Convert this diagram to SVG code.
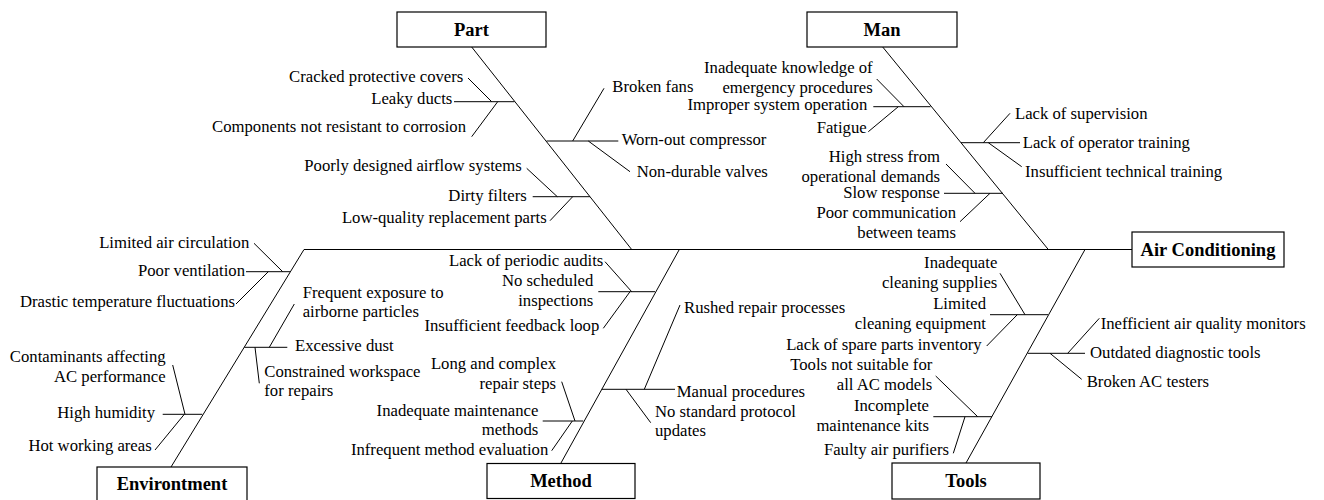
<svg xmlns="http://www.w3.org/2000/svg" width="1324" height="500" viewBox="0 0 1324 500">
  <style>
    text { font-family: "Liberation Serif", "Times New Roman", serif; }
    .bg { fill: #ffffff; }
    .box { fill: #ffffff; stroke: #000000; stroke-width: 1.2; }
    .title { font-size: 18.5px; font-weight: bold; fill: #000000; text-anchor: middle; }
    .lbl { font-size: 16.7px; fill: #000000; }
    .r { text-anchor: end; }
    .l { text-anchor: start; }
    .ln { fill: none; stroke: #000000; stroke-width: 1; }
  </style>
  <rect class="bg" x="0" y="0" width="1324" height="500"/>

  <!-- connectors: spine, main bones and cause ribs -->
  <g id="connectors" class="ln">
    <path d="M304 249.5 H1132"/>
    <!-- main bones -->
    <path d="M471.7 47 L631.7 249.5"/>
    <path d="M882.7 47 L1048.3 249.5"/>
    <path d="M304 249.5 L171 467"/>
    <path d="M679.3 249.5 L560.7 463.5"/>
    <path d="M1085 249.5 L966 463"/>
    <!-- Part ribs -->
    <path d="M454 101.7 H514.5 M468 78 L491.7 101.7 M471.7 136.7 L497.7 101.7"/>
    <path d="M546.5 141 H618.3 M604 88.3 L572.7 141 M588.3 141 L630 171.7"/>
    <path d="M532.7 196.7 H590 M526.7 168.3 L557.3 196.7 M550 220.7 L572.7 196.7"/>
    <!-- Man ribs -->
    <path d="M873.3 106.7 H930.5 M876.7 79 L904 106.7 M868.3 131.7 L898.3 106.7"/>
    <path d="M961 142.7 H1020 M983.3 142.7 L1010 113.3 M988.3 142.7 L1021.7 166.7"/>
    <path d="M944 193.3 H1003 M946 164 L975 193.3 M960 221.7 L990 193.3"/>
    <!-- Environment ribs -->
    <path d="M246 271.7 H290 M254 243.3 L282.7 271.7 M236 304 L268.3 271.7"/>
    <path d="M244.3 347.3 H287.3 M269.3 347.3 L294.3 304 M255 347.3 L259.3 383.3"/>
    <path d="M162.7 414.3 H202.3 M172.7 365 L185 414.3 M155 450 L184.3 414.3"/>
    <!-- Method ribs -->
    <path d="M598.3 291.7 H655 M605 261.7 L631.7 291.7 M603.3 328.3 L630 291.7"/>
    <path d="M601.7 389.3 H675 M644.3 389.3 L680 305 M626 389.3 L650.7 422.7"/>
    <path d="M542.7 421 H583.3 M561.7 381.7 L575 421 M551.7 450.7 L572.3 421"/>
    <!-- Tools ribs -->
    <path d="M990 314.7 H1048 M1000 273.3 L1025 314.7 M986.7 346 L1017.3 314.7"/>
    <path d="M1027.7 353.3 H1085 M1067.7 353.3 L1099.3 318.3 M1050 353.3 L1081.7 379.3"/>
    <path d="M933.3 416.7 H992 M935.7 376 L977.7 416.7 M953.3 453.3 L965 416.7"/>
  </g>

  <!-- category and effect boxes -->
  <g id="node-part">
    <rect class="box" x="397" y="12" width="149" height="35"/>
    <text class="title" x="471.5" y="35.5">Part</text>
  </g>
  <g id="node-man">
    <rect class="box" x="807" y="12" width="150" height="35"/>
    <text class="title" x="882" y="35.5">Man</text>
  </g>
  <g id="node-air-conditioning">
    <rect class="box" x="1132" y="232" width="152" height="35"/>
    <text class="title" x="1208" y="255.5">Air Conditioning</text>
  </g>
  <g id="node-environment">
    <rect class="box" x="97" y="467" width="150" height="36"/>
    <text class="title" x="172" y="490">Environtment</text>
  </g>
  <g id="node-method">
    <rect class="box" x="487" y="463.5" width="148" height="35"/>
    <text class="title" x="561" y="487">Method</text>
  </g>
  <g id="node-tools">
    <rect class="box" x="892" y="463" width="148" height="36"/>
    <text class="title" x="966" y="487">Tools</text>
  </g>

  <!-- Part causes -->
  <g id="causes-part" class="lbl">
    <text class="r" x="463.3" y="81.7">Cracked protective covers</text>
    <text class="r" x="452.3" y="104.3">Leaky ducts</text>
    <text class="r" x="466" y="132.3">Components not resistant to corrosion</text>
    <text class="l" x="612.3" y="91.7">Broken fans</text>
    <text class="l" x="621.7" y="145">Worn-out compressor</text>
    <text class="l" x="636.7" y="177.3">Non-durable valves</text>
    <text class="r" x="521.7" y="170.7">Poorly designed airflow systems</text>
    <text class="r" x="526.7" y="200.7">Dirty filters</text>
    <text class="r" x="546.7" y="222.7">Low-quality replacement parts</text>
  </g>

  <!-- Man causes -->
  <g id="causes-man" class="lbl">
    <text class="r" x="872.7" y="72.7">Inadequate knowledge of</text>
    <text class="r" x="872.7" y="92.7">emergency procedures</text>
    <text class="r" x="867.3" y="110">Improper system operation</text>
    <text class="r" x="866.7" y="133.3">Fatigue</text>
    <text class="l" x="1015" y="119.3">Lack of supervision</text>
    <text class="l" x="1022.7" y="148.3">Lack of operator training</text>
    <text class="l" x="1025" y="176.7">Insufficient technical training</text>
    <text class="r" x="940" y="161.7">High stress from</text>
    <text class="r" x="940" y="181.7">operational demands</text>
    <text class="r" x="940" y="198.3">Slow response</text>
    <text class="r" x="956" y="218.3">Poor communication</text>
    <text class="r" x="956" y="238.3">between teams</text>
  </g>

  <!-- Environment causes -->
  <g id="causes-environment" class="lbl">
    <text class="r" x="249.3" y="248.3">Limited air circulation</text>
    <text class="r" x="245" y="275.7">Poor ventilation</text>
    <text class="r" x="235" y="307.3">Drastic temperature fluctuations</text>
    <text class="l" x="302.7" y="298.3">Frequent exposure to</text>
    <text class="l" x="302.7" y="317.3">airborne particles</text>
    <text class="l" x="295" y="350.7">Excessive dust</text>
    <text class="l" x="264.3" y="376.7">Constrained workspace</text>
    <text class="l" x="264.3" y="395.7">for repairs</text>
    <text class="r" x="165.7" y="361.7">Contaminants affecting</text>
    <text class="r" x="165.7" y="381.7">AC performance</text>
    <text class="r" x="155" y="418.3">High humidity</text>
    <text class="r" x="151.7" y="450.7">Hot working areas</text>
  </g>

  <!-- Method causes -->
  <g id="causes-method" class="lbl">
    <text class="r" x="603.3" y="266">Lack of periodic audits</text>
    <text class="r" x="593.3" y="286">No scheduled</text>
    <text class="r" x="593.3" y="306">inspections</text>
    <text class="r" x="599.3" y="330.7">Insufficient feedback loop</text>
    <text class="l" x="684" y="313.3">Rushed repair processes</text>
    <text class="l" x="676.7" y="396.7">Manual procedures</text>
    <text class="l" x="655" y="416.7">No standard protocol</text>
    <text class="l" x="655" y="435.7">updates</text>
    <text class="r" x="556" y="369">Long and complex</text>
    <text class="r" x="556" y="389">repair steps</text>
    <text class="r" x="538.3" y="415.7">Inadequate maintenance</text>
    <text class="r" x="538.3" y="435">methods</text>
    <text class="r" x="548.3" y="455">Infrequent method evaluation</text>
  </g>

  <!-- Tools causes -->
  <g id="causes-tools" class="lbl">
    <text class="r" x="997.3" y="268.3">Inadequate</text>
    <text class="r" x="997.3" y="288.3">cleaning supplies</text>
    <text class="r" x="986" y="309">Limited</text>
    <text class="r" x="986" y="329.3">cleaning equipment</text>
    <text class="r" x="981.7" y="350">Lack of spare parts inventory</text>
    <text class="l" x="1100.7" y="329.3">Inefficient air quality monitors</text>
    <text class="l" x="1090" y="357.7">Outdated diagnostic tools</text>
    <text class="l" x="1086.7" y="386.7">Broken AC testers</text>
    <text class="r" x="932.3" y="370">Tools not suitable for</text>
    <text class="r" x="932.3" y="390">all AC models</text>
    <text class="r" x="929" y="410.7">Incomplete</text>
    <text class="r" x="929" y="430.7">maintenance kits</text>
    <text class="r" x="949" y="455">Faulty air purifiers</text>
  </g>
</svg>
